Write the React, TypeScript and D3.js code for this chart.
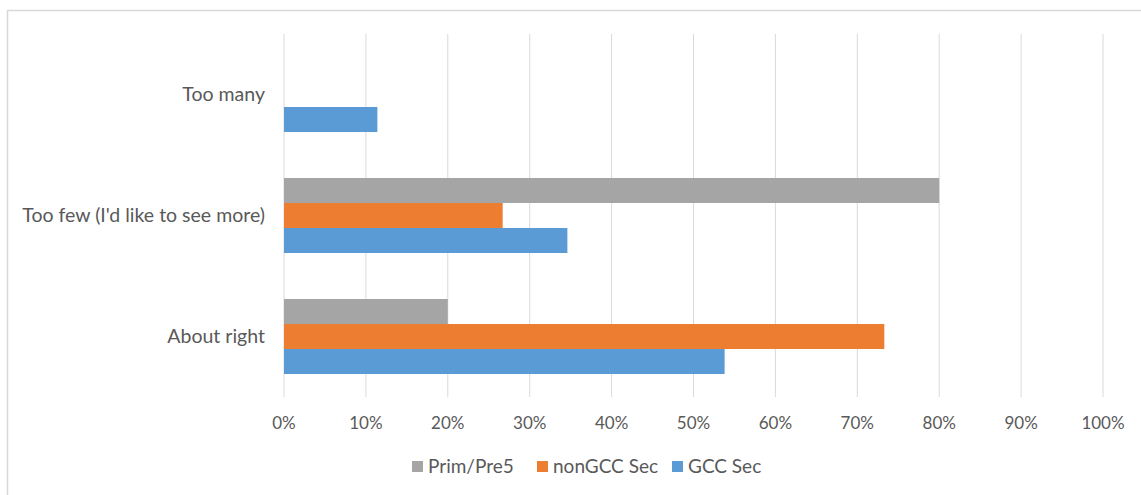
import { useRef, useEffect } from "react";
import * as d3 from "d3";

const categories = ["Too many", "Too few (I'd like to see more)", "About right"];
const seriesNames = ["Prim/Pre5", "nonGCC Sec", "GCC Sec"];
const seriesColors = ["#A5A5A5", "#ED7D31", "#5B9BD5"];
// values per series, in category order
const primPre5 = [0, 0.8, 0.2];
const nonGccSec = [0, 0.267, 0.733];
const gccSec = [0.114, 0.346, 0.538];
const xTicks = [0, 0.1, 0.2, 0.3, 0.4, 0.5, 0.6, 0.7, 0.8, 0.9, 1.0];

const W = 1141;
const H = 495;

export default function App() {
  const svgRef = useRef(null);

  function renderChart() {
    const svg = d3.select(svgRef.current);
    svg.selectAll("*").remove();
    svg.attr("width", W).attr("height", H);

    const font = "Lato, 'Open Sans', sans-serif";
    const textColor = "#595959";

    svg
      .append("rect")
      .attr("x", 7.5)
      .attr("y", 10.5)
      .attr("width", 1200)
      .attr("height", 600)
      .attr("fill", "#fff")
      .attr("stroke", "#D9D9D9")
      .attr("stroke-width", 1.5);

    const x = d3.scaleLinear().domain([0, 1]).range([284, 1103]);
    const y = d3.scaleBand().domain(categories).range([34, 397]).paddingInner(0.38).paddingOuter(0.19);
    const ySub = d3.scaleBand().domain(seriesNames).range([0, y.bandwidth()]);

    // gridlines
    svg
      .append("g")
      .selectAll("line")
      .data(xTicks)
      .join("line")
      .attr("x1", (d) => x(d))
      .attr("x2", (d) => x(d))
      .attr("y1", 34)
      .attr("y2", 397)
      .attr("stroke", "#D9D9D9")
      .attr("stroke-width", 1);

    // tick labels
    svg
      .append("g")
      .selectAll("text")
      .data(xTicks)
      .join("text")
      .attr("x", (d) => x(d))
      .attr("y", 429)
      .attr("text-anchor", "middle")
      .attr("font-family", font)
      .attr("font-size", 17)
      .attr("fill", textColor)
      .text((d) => d3.format(".0%")(d));

    // category labels
    svg
      .append("g")
      .selectAll("text")
      .data(categories)
      .join("text")
      .attr("x", 265)
      .attr("y", (d) => (y(d) as number) + y.bandwidth() / 2 + 6)
      .attr("text-anchor", "end")
      .attr("font-family", font)
      .attr("font-size", 19.5)
      .attr("fill", textColor)
      .text((d) => d);

    const allSeries = [primPre5, nonGccSec, gccSec];
    const bars = svg.append("g");
    allSeries.forEach((vals, si) => {
      bars
        .append("g")
        .selectAll("rect")
        .data(vals.map((v, i) => ({ cat: categories[i], v })))
        .join("rect")
        .attr("x", x(0))
        .attr("y", (d) => (y(d.cat) as number) + (ySub(seriesNames[si]) as number))
        .attr("width", (d) => x(d.v) - x(0))
        .attr("height", ySub.bandwidth())
        .attr("fill", seriesColors[si]);
    });

    // legend
    const legendX = [412, 537, 672];
    const lg = svg.append("g");
    seriesNames.forEach((name, i) => {
      lg.append("rect")
        .attr("x", legendX[i])
        .attr("y", 461)
        .attr("width", 11)
        .attr("height", 11)
        .attr("fill", seriesColors[i]);
      lg.append("text")
        .attr("x", legendX[i] + 16)
        .attr("y", 473)
        .attr("font-family", font)
        .attr("font-size", 19)
        .attr("fill", textColor)
        .text(name);
    });
  }

  useEffect(() => {
    renderChart();
  }, []);

  return (
    <div style={{ position: "absolute", left: 0, top: 0 }}>
      <svg ref={svgRef} style={{ display: "block" }} />
    </div>
  );
}
